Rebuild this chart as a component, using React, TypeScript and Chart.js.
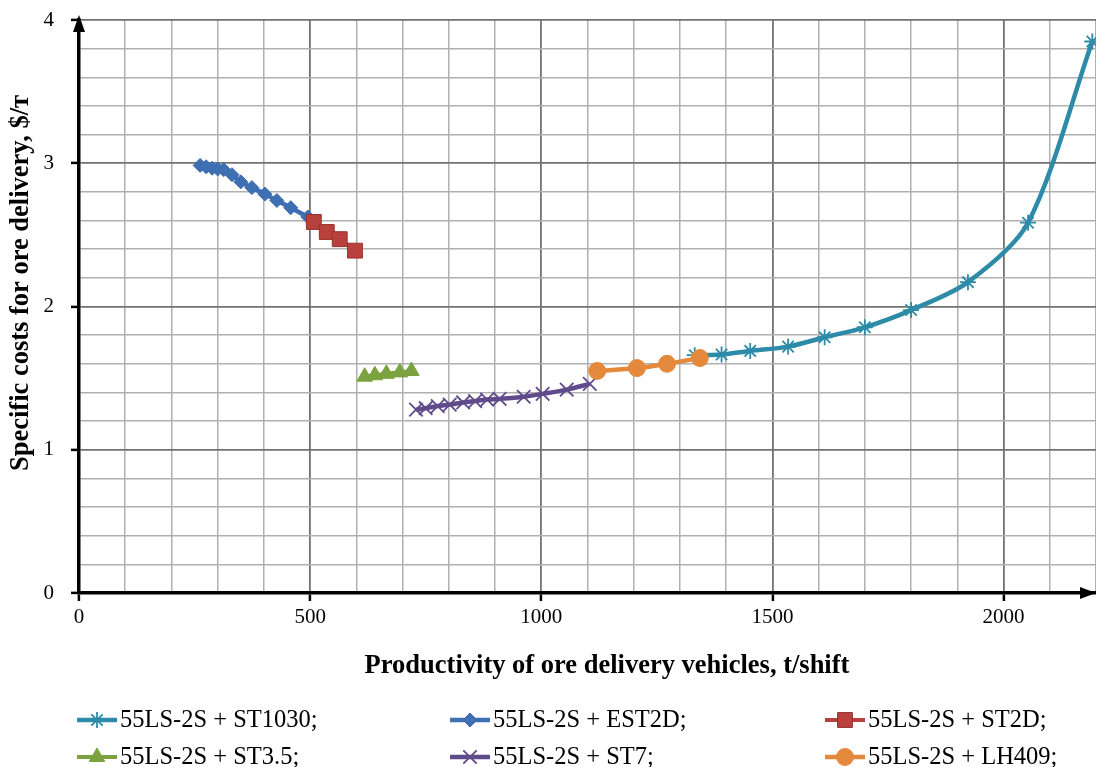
import React, { useEffect, useRef } from 'react';
import { Chart, registerables } from 'chart.js';
import { drawPoint } from 'chart.js/helpers';

Chart.register(...registerables);

const FONT = "'Liberation Serif', 'Times New Roman', serif";

// ---- data ----
const seriesLabels = [
  '55LS-2S + ST1030;',
  '55LS-2S + EST2D;',
  '55LS-2S + ST2D;',
  '55LS-2S + ST3.5;',
  '55LS-2S + ST7;',
  '55LS-2S + LH409;',
];

const st1030X = [1332, 1390, 1452, 1534, 1613, 1700, 1800, 1923, 2053, 2192];
const st1030Y = [1.66, 1.665, 1.69, 1.72, 1.785, 1.855, 1.975, 2.17, 2.585, 3.85];

const est2dX = [262, 275, 288, 300, 313, 331, 350, 374, 402, 428, 458, 495];
const est2dY = [2.985, 2.975, 2.965, 2.96, 2.955, 2.92, 2.87, 2.83, 2.785, 2.74, 2.69, 2.625];

const st2dX = [508, 536, 564, 597];
const st2dY = [2.59, 2.52, 2.47, 2.39];

const st35X = [618, 640, 665, 694, 719];
const st35Y = [1.51, 1.52, 1.53, 1.54, 1.55];

const st7X = [729, 750, 776, 802, 831, 857, 883, 910, 962, 1003, 1055, 1105];
const st7Y = [1.28, 1.29, 1.305, 1.315, 1.33, 1.34, 1.35, 1.355, 1.37, 1.39, 1.42, 1.46];

const lh409X = [1121, 1207, 1272, 1343];
const lh409Y = [1.55, 1.57, 1.6, 1.64];

const xTickLabels = ['0', '500', '1000', '1500', '2000'];
const yTickLabels = ['0', '1', '2', '3', '4'];

const xTitle = 'Productivity of ore delivery vehicles, t/shift';
const yTitle = 'Specific costs for ore delivery, $/т';

const zip = (xs: number[], ys: number[]) => xs.map((x, i) => ({ x, y: ys[i] }));

const MAJOR_GRID = '#727272';
const MINOR_GRID = '#b0b0b0';

const isMajorX = (v: number) => xTickLabels.includes(String(Math.round(v))) && Math.abs(v - Math.round(v)) < 1e-6;
const isMajorY = (v: number) => Math.abs(v - Math.round(v)) < 1e-6;

const decorPlugin = {
  id: 'decor',
  afterDraw(chart: any) {
    const { ctx, chartArea } = chart;
    const { left, right, top, bottom } = chartArea;
    ctx.save();
    ctx.fillStyle = '#000';
    // y axis arrow
    ctx.beginPath();
    ctx.moveTo(left, top - 5);
    ctx.lineTo(left - 6, top + 12);
    ctx.lineTo(left + 6, top + 12);
    ctx.closePath();
    ctx.fill();
    // x axis arrow
    ctx.beginPath();
    ctx.moveTo(right, bottom);
    ctx.lineTo(right - 16, bottom - 6);
    ctx.lineTo(right - 16, bottom + 6);
    ctx.closePath();
    ctx.fill();

    // axis titles
    ctx.font = `bold 26.5px ${FONT}`;
    ctx.textAlign = 'center';
    ctx.textBaseline = 'middle';
    ctx.fillText(xTitle, 607, 666);
    ctx.save();
    ctx.translate(21, 283);
    ctx.rotate(-Math.PI / 2);
    ctx.fillText(yTitle, 0, 0);
    ctx.restore();

    // legend
    const cols = [77, 450, 825];
    const rows = [720, 757];
    chart.data.datasets.forEach((ds: any, i: number) => {
      const x = cols[i % 3];
      const y = rows[Math.floor(i / 3)];
      ctx.strokeStyle = ds.borderColor;
      ctx.lineWidth = ds.borderWidth;
      ctx.beginPath();
      ctx.moveTo(x, y);
      ctx.lineTo(x + 40, y);
      ctx.stroke();
      ctx.fillStyle = ds.pointBackgroundColor;
      ctx.strokeStyle = ds.pointBorderColor;
      ctx.lineWidth = ds.pointBorderWidth;
      drawPoint(ctx, { pointStyle: ds.pointStyle, radius: ds.pointRadius, rotation: 0, borderWidth: ds.pointBorderWidth } as any, x + 20, y);
      ctx.fillStyle = '#000';
      ctx.font = `24.5px ${FONT}`;
      ctx.textBaseline = 'middle';
      ctx.textAlign = 'left';
      ctx.fillText(ds.label, x + 43, y + 1);
    });
    ctx.restore();
  },
};

export default function App() {
  const ref = useRef<HTMLCanvasElement>(null);
  useEffect(() => {
    const mk = (
      i: number,
      xs: number[],
      ys: number[],
      color: string,
      style: string,
      radius: number,
      lineW: number,
      order: number,
      fill?: string,
      border?: string,
      pbw = 1
    ) => ({
      label: seriesLabels[i],
      data: zip(xs, ys),
      borderColor: color,
      borderWidth: lineW,
      pointStyle: style,
      pointRadius: radius,
      pointHoverRadius: radius,
      pointBackgroundColor: fill ?? color,
      pointBorderColor: border ?? color,
      pointBorderWidth: pbw,
      tension: 0.3,
      showLine: true,
      fill: false,
      order,
    });

    const chart = new Chart(ref.current as HTMLCanvasElement, {
      type: 'scatter',
      data: {
        datasets: [
          mk(0, st1030X, st1030Y, '#2D8BA8', 'star', 8, 4.5, 5, '#2D8BA8', '#2D8BA8', 1.8),
          mk(1, est2dX, est2dY, '#3D6FB2', 'rectRot', 7, 4.5, 3),
          mk(2, st2dX, st2dY, '#B8413E', 'rect', 10.5, 4, 1, '#B8413E', '#9b302d', 1),
          mk(3, st35X, st35Y, '#7AA23E', 'triangle', 9, 4, 2),
          mk(4, st7X, st7Y, '#5F4B8B', 'crossRot', 9.5, 4.5, 4, '#5F4B8B', '#5F4B8B', 1.8),
          mk(5, lh409X, lh409Y, '#E4893B', 'circle', 8.5, 4.5, 0),
        ] as any,
      },
      options: {
        animation: false,
        responsive: false,
        maintainAspectRatio: false,
        layout: { autoPadding: false, padding: { top: 20, left: 0, right: 0, bottom: 94 } },
        plugins: { legend: { display: false }, tooltip: { enabled: false } },
        scales: {
          x: {
            type: 'linear',
            min: 0,
            max: 2200,
            afterFit: (s: any) => {
              s.height = 80;
              s.paddingLeft = 0;
              s.paddingRight = 0;
              s.paddingTop = 0;
              s.paddingBottom = 0;
            },
            ticks: {
              stepSize: 100,
              autoSkip: false,
              maxRotation: 0,
              padding: 4,
              color: '#000',
              font: { family: FONT, size: 21 },
              callback: (v: any) => (isMajorX(Number(v)) ? String(Math.round(Number(v))) : ''),
            },
            grid: {
              color: (c: any) => (c.tick && isMajorX(c.tick.value) ? MAJOR_GRID : MINOR_GRID),
              lineWidth: (c: any) => (c.tick && isMajorX(c.tick.value) ? 1.8 : 1.5),
              tickColor: (c: any) => (c.tick && isMajorX(c.tick.value) ? '#000' : 'rgba(0,0,0,0)'),
              tickLength: 8,
              tickWidth: 2.5,
            },
            border: { color: '#000', width: 3.5 },
            title: { display: false },
          },
          y: {
            type: 'linear',
            min: 0,
            max: 4,
            afterFit: (s: any) => {
              s.width = 79;
              s.paddingLeft = 0;
              s.paddingRight = 0;
              s.paddingTop = 0;
              s.paddingBottom = 0;
            },
            ticks: {
              stepSize: 0.2,
              autoSkip: false,
              padding: 17,
              color: '#000',
              font: { family: FONT, size: 21 },
              callback: (v: any) => (isMajorY(Number(v)) ? yTickLabels[Math.round(Number(v))] : ''),
            },
            grid: {
              color: (c: any) => (c.tick && isMajorY(c.tick.value) ? MAJOR_GRID : MINOR_GRID),
              lineWidth: (c: any) => (c.tick && isMajorY(c.tick.value) ? 1.8 : 1.5),
              tickColor: (c: any) => (c.tick && isMajorY(c.tick.value) ? '#000' : 'rgba(0,0,0,0)'),
              tickLength: 8,
              tickWidth: 2.5,
            },
            border: { color: '#000', width: 3.5 },
            title: { display: false },
          },
        },
      } as any,
      plugins: [decorPlugin],
    });
    return () => chart.destroy();
  }, []);

  return (
    <div style={{ position: 'absolute', left: 0, top: 0, width: 1096, height: 767, background: '#fff' }}>
      <canvas ref={ref} width={1096} height={767} style={{ display: 'block' }} />
    </div>
  );
}
